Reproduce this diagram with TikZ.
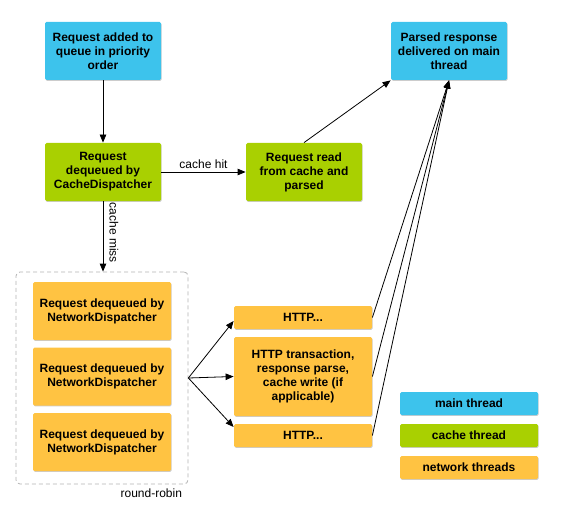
\documentclass[tikz,border=0pt]{standalone}
\usepackage{fontspec}
\setmainfont{Liberation Sans}
\usetikzlibrary{arrows.meta,shadows}
\definecolor{mainblue}{HTML}{3DC3EC}
\definecolor{cachegreen}{HTML}{A9D001}
\definecolor{netorange}{HTML}{FFC342}

\begin{document}
\begin{tikzpicture}[x=1pt,y=-1pt,node distance=65.5pt,line width=0.8pt,
  >={Triangle[length=8pt,width=6.5pt]},
  box/.style={rectangle,rounded corners=1.5pt,minimum width=116pt,minimum height=58pt,
    align=center,inner sep=2pt,font=\fontsize{12}{14}\selectfont\bfseries,
    drop shadow={shadow xshift=0.6pt,shadow yshift=-0.9pt,opacity=0.2,fill=black}},
  mainbox/.style={box,fill=mainblue},
  cachebox/.style={box,fill=cachegreen},
  netbox/.style={box,fill=netorange,minimum width=138pt},
  slim/.style={minimum width=138pt,minimum height=23pt},
  lbl/.style={font=\fontsize{12}{14}\selectfont,inner sep=2pt}]
\useasboundingbox (0,0) rectangle (564,505);
\node[mainbox] (queued) at (103,51) {Request added to\\queue in priority\\order};
\node[cachebox] (cachedisp) [below of=queued, node distance=121pt] {Request\\dequeued by\\CacheDispatcher};
\node[cachebox] (cacheread) [right of=cachedisp, node distance=201pt] {Request read\\from cache and\\parsed};
\node[mainbox] (delivered) at (449,51) {Parsed response\\delivered on main\\thread};
% network dispatcher pool
\node[draw=gray!60,dash pattern=on 4pt off 3pt,rounded corners=4pt,
  minimum width=172pt,minimum height=212pt] (pool) at (102,378) {};
\node[netbox] (netdisp2) at (102,376.5) {Request dequeued by\\NetworkDispatcher};
\node[netbox] (netdisp1) [above of=netdisp2] {Request dequeued by\\NetworkDispatcher};
\node[netbox] (netdisp3) [below of=netdisp2] {Request dequeued by\\NetworkDispatcher};
\node[lbl,anchor=north east] (robin) at ([xshift=-4pt,yshift=-2pt]pool.south east) {round-robin};
% http work
\node[netbox,minimum height=79pt] (httpmain) at (303,376.5) {HTTP transaction,\\response parse,\\cache write (if\\applicable)};
\node[netbox,slim] (httptop) [above of=httpmain, node distance=59pt] {HTTP...};
\node[netbox,slim] (httpbot) [below of=httpmain, node distance=59pt] {HTTP...};
% legend
\node[mainbox,slim] (legmain) at (469,403.5) {main thread};
\node[cachebox,slim] (legcache) [below of=legmain, node distance=32pt] {cache thread};
\node[netbox,slim] (legnet) [below of=legcache, node distance=32pt] {network threads};
\draw[->] (queued) -- (cachedisp);
\draw[->] (cachedisp) -- node[lbl,above,yshift=1pt] {cache hit} (cacheread);
\draw[->] (cachedisp) -- node[lbl,pos=0.45,anchor=south,rotate=-90,inner sep=6pt] {cache miss} (pool.north -| cachedisp);
\draw[->] (cacheread.north) -- (delivered.south west);
\draw[->] (pool.east) -- ([yshift=-3.5pt]httptop.west);
\draw[->] (pool.east) -- (httpmain.west);
\draw[->] (pool.east) -- ([yshift=8.5pt]httpbot.west);
\foreach \h in {httptop,httpmain,httpbot}
  \draw[->] (\h.east) -- (delivered.south);
\end{tikzpicture}
\end{document}
